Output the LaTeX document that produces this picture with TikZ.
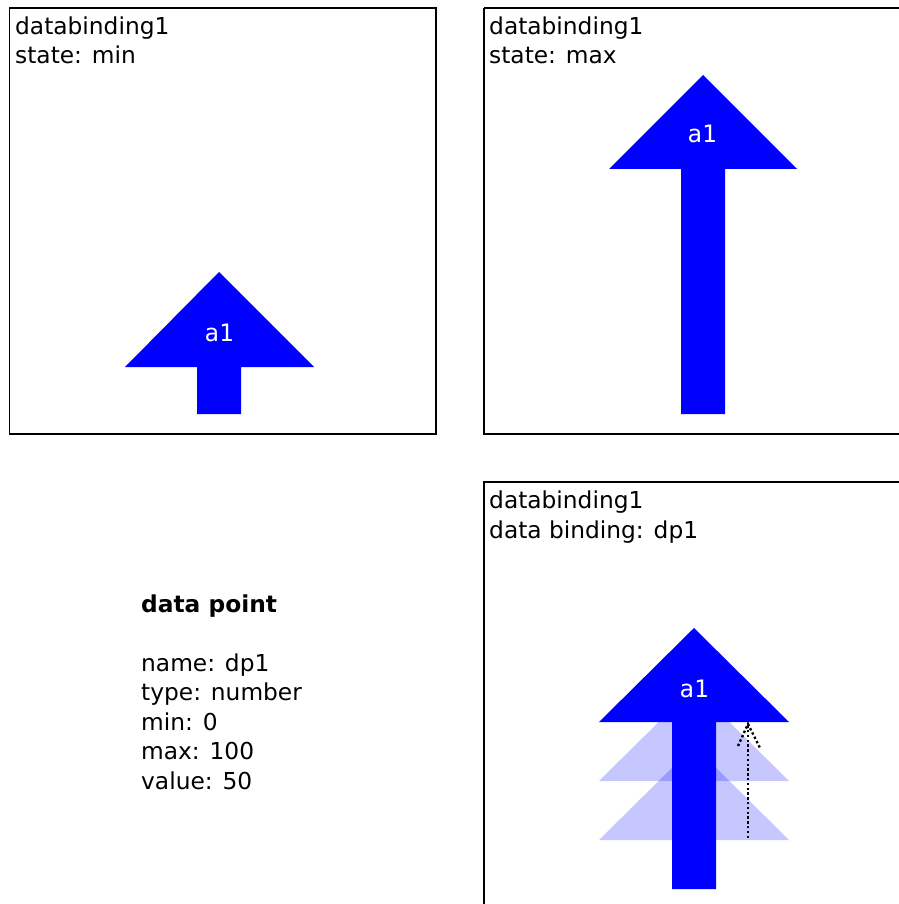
\documentclass[tikz,border=0pt]{standalone}
\usepackage{fontspec}
\setmainfont{DejaVu Sans}
\setmonofont{DejaVu Sans Mono}
\begin{document}
\begin{tikzpicture}[x=1pt,y=-1pt,
  panel/.style={draw=black,line width=1.4pt},
  lbl/.style={anchor=base west,inner sep=0pt,font=\fontsize{23.3}{29}\selectfont},
  boldlbl/.style={lbl,font=\fontsize{23.3}{29}\selectfont\bfseries},
  arrowfill/.style={fill=blue},
  ghost/.style={fill=blue,fill opacity=0.22},
  tag/.style={anchor=base,inner sep=0pt,text=white,font=\fontsize{24}{28}\ttfamily},
  trail/.style={line width=2.4pt,dash pattern=on 2.4pt off 2.4pt}]
\useasboundingbox (0,0) rectangle (898,904);
% panels
\draw[panel] (9.5,8) rectangle (436,434);
\draw[panel] (484,8) -- (484,434) -- (910,434);
\draw[panel] (910,8) -- (484,8);
\draw[panel] (910,482) -- (484,482) -- (484,920);
% panel 1 texts
\node[lbl] (t1a) at (15,35) {databinding1};
\node[lbl] (t1b) at (15,64) {state: min};
% panel 2 texts
\node[lbl] (t2a) at (489,35) {databinding1};
\node[lbl] (t2b) at (489,64) {state: max};
% panel 3 texts
\node[lbl] (t3a) at (489,508) {databinding1};
\node[lbl] (t3b) at (489,538) {data binding: dp1};
% data point
\node[boldlbl] (dpa) at (141,612) {data point};
\node[lbl] (dpb) at (141,671) {name: dp1};
\node[lbl] (dpc) at (141,700) {type: number};
\node[lbl] (dpd) at (141,730) {min: 0};
\node[lbl] (dpe) at (141,759) {max: 100};
\node[lbl] (dpf) at (141,789) {value: 50};
% arrow 1 (min)
\fill[arrowfill] (125,367) -- (219,272) -- (314,367) -- (241,367) -- (241,414) -- (197,414) -- (197,367) -- cycle;
\node[tag] (a1a) at (219,341) {a1};
% arrow 2 (max)
\fill[arrowfill] (609,169) -- (703,75) -- (797,169) -- (725,169) -- (725,414) -- (681,414) -- (681,169) -- cycle;
\node[tag] (a1b) at (702,143) {a1};
% arrow 3 (data binding)
\fill[ghost] (599,840) -- (694,746) -- (789,840) -- cycle;
\fill[ghost] (599,781) -- (694,687) -- (789,781) -- cycle;
\fill[arrowfill] (599,722) -- (694,628) -- (789,722) -- (716,722) -- (716,889) -- (672,889) -- (672,722) -- cycle;
\node[tag] (a1c) at (694,697) {a1};
% dotted motion arrow
\coordinate (mstart) at (748,838);
\coordinate (mtip) at (748,724);
\coordinate (mleft) at (738,746);
\coordinate (mright) at (760,748);
\draw[trail] (mstart) -- (mtip);
\draw[trail] (mleft) -- (mtip) -- (mright);
\end{tikzpicture}
\end{document}
